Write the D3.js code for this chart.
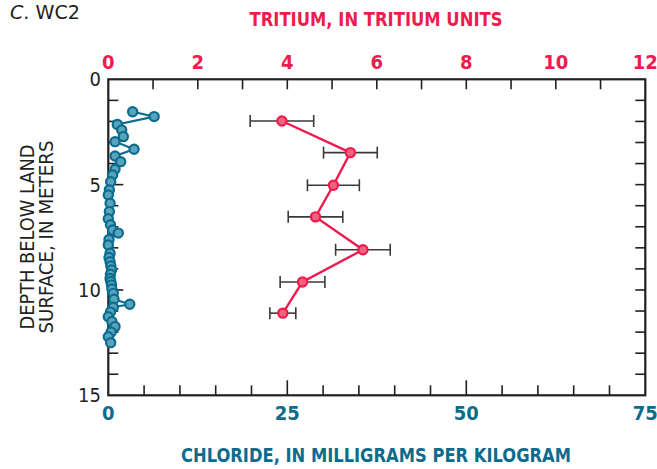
<!DOCTYPE html>
<html><head><meta charset="utf-8">
<script src="https://cdn.jsdelivr.net/npm/d3@7"></script>
<style>
body{margin:0;background:#fff;}
svg{display:block;}
text{font-family:"DejaVu Sans Condensed","Liberation Sans",sans-serif;}
</style></head>
<body><svg id="c" width="657" height="469"></svg>
<script>
// Chloride profile (mg/kg) vs depth (m)
const clDepth = [1.54,1.77,2.14,2.41,2.72,2.96,3.32,3.64,3.91,4.27,4.54,4.86,5.25,5.49,5.88,6.28,6.62,6.9,7.15,7.3,7.6,7.86,8.26,8.46,8.66,8.86,9.05,9.25,9.45,9.6,9.76,9.95,10.16,10.44,10.68,10.82,11.05,11.27,11.5,11.74,12.0,12.22,12.5];
const clValue = [3.4,6.4,1.26,1.87,2.1,0.94,3.6,0.94,1.73,0.94,0.6,0.33,0.15,0.0,0.25,0.15,0.0,0.3,0.6,1.4,0.1,0.0,0.25,0.1,0.25,0.35,0.45,0.3,0.25,0.35,0.45,0.5,0.7,0.8,3.0,0.7,0.3,0.0,0.5,0.94,0.4,0.0,0.33];
// Tritium profile (TU) vs depth (m), with error
const trDepth = [1.98,3.48,5.03,6.53,8.09,9.62,11.1];
const trValue = [3.88,5.41,5.03,4.63,5.69,4.34,3.9];
const trError = [0.71,0.6,0.58,0.61,0.61,0.5,0.29];
// Axes ticks
const depthLabels = [0,5,10,15];
const tritiumLabels = [0,2,4,6,8,10,12];
const chlorideLabels = [0,25,50,75];

const svg = d3.select("#c");
const L=108.3, R=645.3, T=79.3, B=395.3;
const y = d3.scaleLinear().domain([0,15]).range([T,B]);
const xCl = d3.scaleLinear().domain([0,75]).range([L,R]);
const xTr = d3.scaleLinear().domain([0,12]).range([L,R]);
const ink="#231f20", red="#ee1c4e", teal="#0c6c8e";

// Title
svg.append("text").attr("x",10).attr("y",19).attr("font-size",20).attr("fill","#231f20")
  .attr("textLength",70).attr("lengthAdjust","spacingAndGlyphs")
  .html('<tspan font-style="italic">C</tspan>. WC2');

// Top title
svg.append("text").attr("x",376).attr("y",26).attr("text-anchor","middle")
  .attr("font-size",20).attr("font-weight","bold").attr("fill",red)
  .attr("textLength",253).attr("lengthAdjust","spacingAndGlyphs").text("TRITIUM, IN TRITIUM UNITS");
// Bottom title
svg.append("text").attr("x",376).attr("y",462).attr("text-anchor","middle")
  .attr("font-size",20).attr("font-weight","bold").attr("fill",teal)
  .attr("textLength",390).attr("lengthAdjust","spacingAndGlyphs").text("CHLORIDE, IN MILLIGRAMS PER KILOGRAM");
// Left title
const lt = svg.append("text").attr("transform","translate(34,237) rotate(-90)").attr("text-anchor","middle")
  .attr("font-size",20).attr("fill",ink);
lt.append("tspan").attr("x",0).attr("dy",0).attr("textLength",185).attr("lengthAdjust","spacingAndGlyphs").text("DEPTH BELOW LAND");
lt.append("tspan").attr("x",0).attr("dy",19).attr("textLength",193).attr("lengthAdjust","spacingAndGlyphs").text("SURFACE, IN METERS");

// Ticks
const g = svg.append("g").attr("stroke",ink).attr("stroke-width",1.6);
d3.range(1,15).forEach(d=>{
  const len = (d%5===0)?15:10;
  g.append("line").attr("x1",L).attr("x2",L+len).attr("y1",y(d)).attr("y2",y(d));
  g.append("line").attr("x1",R).attr("x2",R-10).attr("y1",y(d)).attr("y2",y(d));
});
d3.range(1,12).forEach(t=>{
  g.append("line").attr("x1",xTr(t)).attr("x2",xTr(t)).attr("y1",T).attr("y2",T+10);
});
d3.range(5,75,5).forEach(c=>{
  const len = (c%25===0)?15:10;
  g.append("line").attr("x1",xCl(c)).attr("x2",xCl(c)).attr("y1",B).attr("y2",B-len);
});
svg.append("rect").attr("x",L).attr("y",T).attr("width",R-L).attr("height",B-T)
  .attr("fill","none").attr("stroke",ink).attr("stroke-width",2.2);

// Tick labels
depthLabels.forEach(d=>{
  svg.append("text").attr("x",101).attr("y",y(d)+7).attr("text-anchor","end")
    .attr("font-size",20).attr("fill",ink).text(d);
});
tritiumLabels.forEach(t=>{
  svg.append("text").attr("x",xTr(t)).attr("y",69).attr("text-anchor","middle")
    .attr("font-size",20).attr("font-weight","bold").attr("fill",red).text(t);
});
chlorideLabels.forEach(c=>{
  svg.append("text").attr("x",xCl(c)).attr("y",420).attr("text-anchor","middle")
    .attr("font-size",20).attr("font-weight","bold").attr("fill",teal).text(c);
});

// Chloride series
const cl = clDepth.map((d,i)=>({d, v:clValue[i]}));
svg.append("path").datum(cl).attr("fill","none").attr("stroke",teal).attr("stroke-width",2.2)
  .attr("d", d3.line().x(p=>xCl(p.v)).y(p=>y(p.d)));
svg.append("g").selectAll("circle").data(cl).join("circle")
  .attr("cx",p=>xCl(p.v)).attr("cy",p=>y(p.d)).attr("r",4.6)
  .attr("fill","#5aa3bd").attr("stroke",teal).attr("stroke-width",2.2);

// Tritium series
const tr = trDepth.map((d,i)=>({d, v:trValue[i], e:trError[i]}));
const eb = svg.append("g").attr("stroke","#3a3a3a").attr("stroke-width",1.6);
tr.forEach(p=>{
  eb.append("line").attr("x1",xTr(p.v-p.e)).attr("x2",xTr(p.v+p.e)).attr("y1",y(p.d)).attr("y2",y(p.d));
  [p.v-p.e,p.v+p.e].forEach(v=>eb.append("line").attr("x1",xTr(v)).attr("x2",xTr(v)).attr("y1",y(p.d)-6).attr("y2",y(p.d)+6));
});
svg.append("path").datum(tr).attr("fill","none").attr("stroke",red).attr("stroke-width",2.4)
  .attr("d", d3.line().x(p=>xTr(p.v)).y(p=>y(p.d)));
svg.append("g").selectAll("circle").data(tr).join("circle")
  .attr("cx",p=>xTr(p.v)).attr("cy",p=>y(p.d)).attr("r",4.6)
  .attr("fill","#f0647f").attr("stroke",red).attr("stroke-width",2.2);
</script></body></html>
